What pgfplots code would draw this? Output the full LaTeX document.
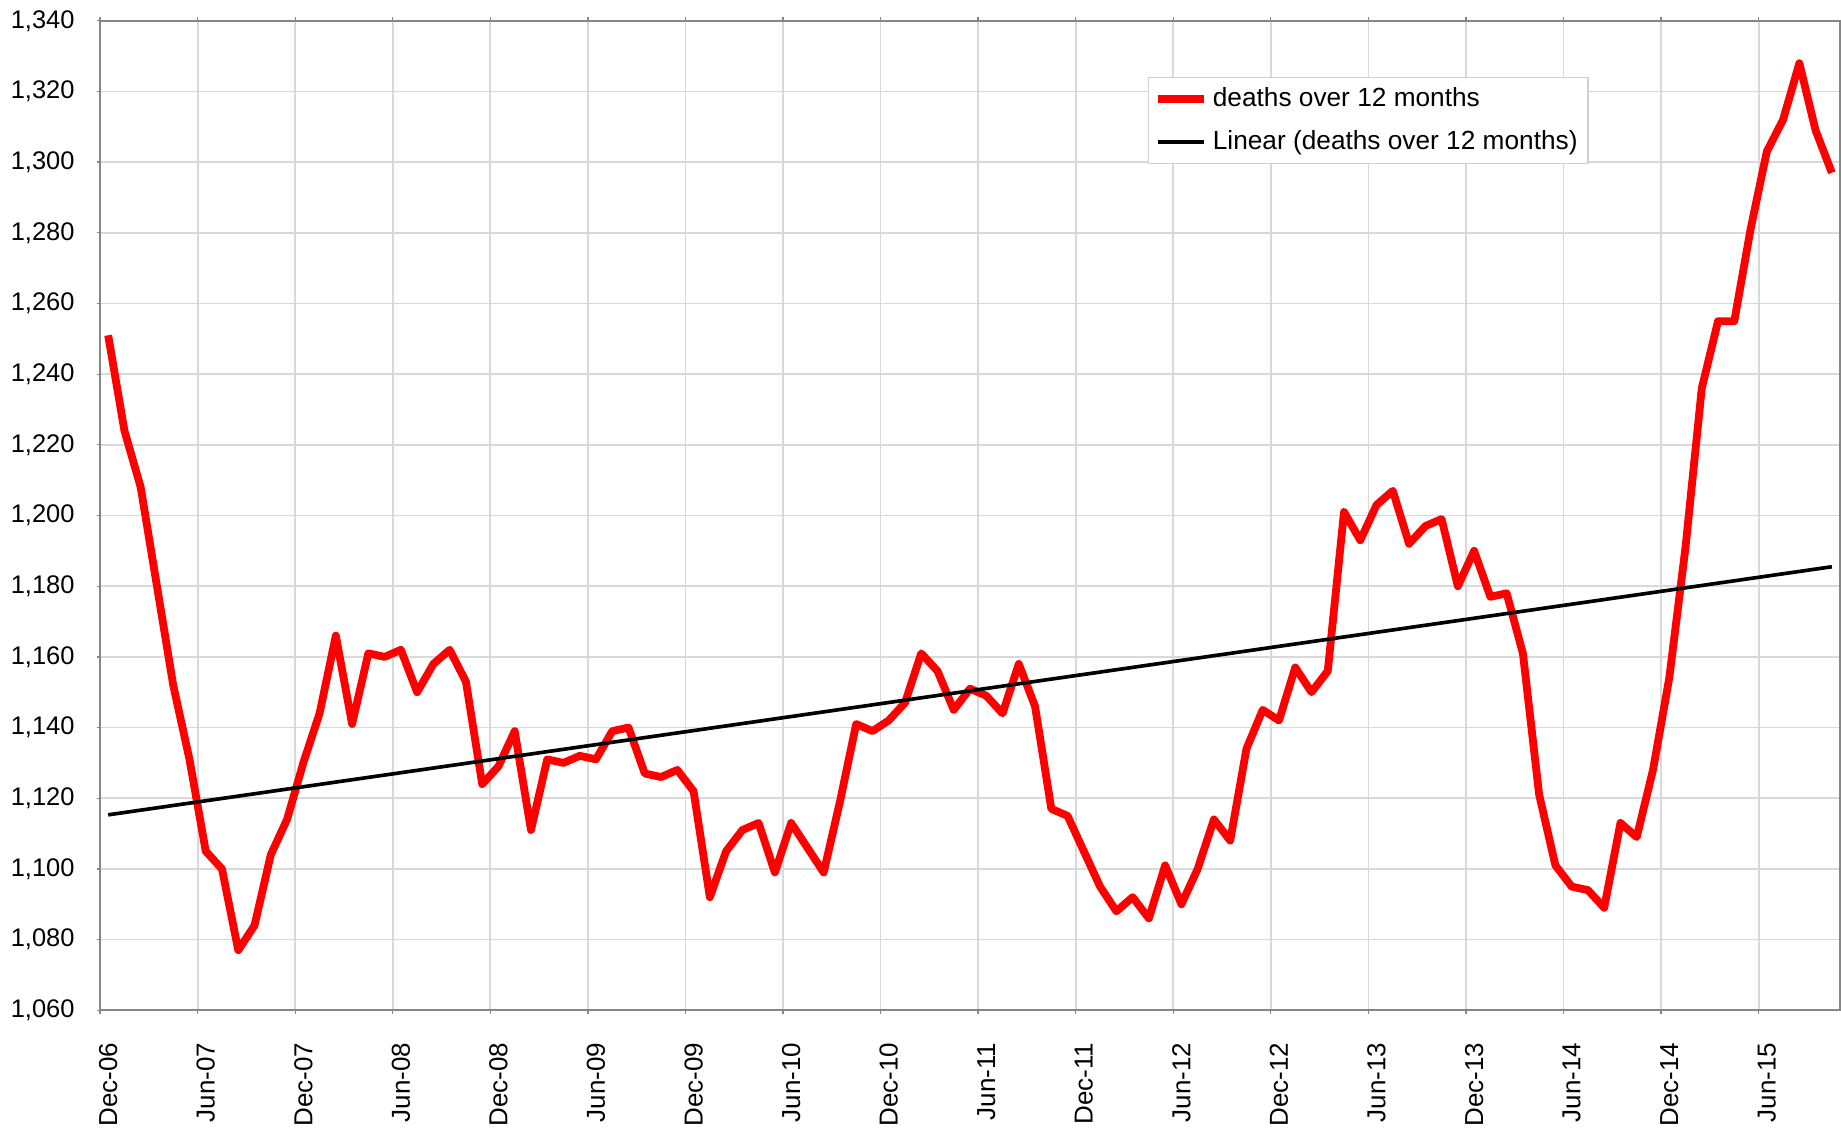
\documentclass[border=0pt]{standalone}
\usepackage{fontspec}
\setmainfont{Liberation Sans}
\usepackage{pgfplots}
\pgfplotsset{compat=1.18}
\definecolor{deathred}{HTML}{FF0000}
\definecolor{framegrey}{HTML}{868686}
\definecolor{gridgrey}{HTML}{D9D9D9}
\definecolor{legendgrey}{HTML}{D0D0D0}

% deaths over 12 months, monthly, index 0 = Dec-06
\pgfplotstableread{
idx deaths
0 1251
1 1224
2 1208
3 1180
4 1152
5 1131
6 1105
7 1100
8 1077
9 1084
10 1104
11 1114
12 1130
13 1144
14 1166
15 1141
16 1161
17 1160
18 1162
19 1150
20 1158
21 1162
22 1153
23 1124
24 1129
25 1139
26 1111
27 1131
28 1130
29 1132
30 1131
31 1139
32 1140
33 1127
34 1126
35 1128
36 1122
37 1092
38 1105
39 1111
40 1113
41 1099
42 1113
43 1106
44 1099
45 1119
46 1141
47 1139
48 1142
49 1147
50 1161
51 1156
52 1145
53 1151
54 1149
55 1144
56 1158
57 1146
58 1117
59 1115
60 1105
61 1095
62 1088
63 1092
64 1086
65 1101
66 1090
67 1100
68 1114
69 1108
70 1134
71 1145
72 1142
73 1157
74 1150
75 1156
76 1201
77 1193
78 1203
79 1207
80 1192
81 1197
82 1199
83 1180
84 1190
85 1177
86 1178
87 1161
88 1121
89 1101
90 1095
91 1094
92 1089
93 1113
94 1109
95 1128
96 1154
97 1191
98 1236
99 1255
100 1255
101 1281
102 1303
103 1312
104 1328
105 1309
106 1297
}\deathstable

\begin{document}
\begin{tikzpicture}
\begin{axis}[name=ax,
  scale only axis,
  width=669.6pt,height=380.8pt,
  xmin=-0.5,xmax=106.5,
  ymin=1060,ymax=1340,
  font=\fontsize{9.8}{11.8}\selectfont,
  tick label style={font=\fontsize{9.8}{11.8}\selectfont},
  /pgf/number format/assume math mode=true,
  /pgf/number format/1000 sep={,},
  xtick={0,6,...,102},
  xticklabels={Dec-06,Jun-07,Dec-07,Jun-08,Dec-08,Jun-09,Dec-09,Jun-10,Dec-10,Jun-11,Dec-11,Jun-12,Dec-12,Jun-13,Dec-13,Jun-14,Dec-14,Jun-15},
  xticklabel style={font=\fontsize{10}{12}\selectfont,rotate=90,anchor=east,xshift=-7.7pt},
  minor xtick={-0.5,5.5,11.5,17.5,23.5,29.5,35.5,41.5,47.5,53.5,59.5,65.5,71.5,77.5,83.5,89.5,95.5,101.5},
  xminorgrids=true,
  major x tick style={draw=none},
  ytick={1060,1080,...,1340},
  ymajorgrids=true,
  grid style={gridgrey,line width=0.7pt},
  minor grid style={gridgrey,line width=0.7pt},
  tick align=outside,
  major tick length=1.3pt,
  minor tick length=1.3pt,
  tick style={framegrey,line width=0.5pt},
  axis line style={framegrey,line width=0.8pt},
  y tick label style={xshift=-5pt},
  legend style={at={(0.6021,0.9434)},anchor=north west,
    draw=legendgrey,fill=white,line width=0.6pt,
    font=\fontsize{10.1}{12}\selectfont,
    inner xsep=2pt,inner ysep=1.8pt,row sep=3.8pt,
    /tikz/every even column/.append style={column sep=0pt}},
  legend cell align=left,
  legend image code/.code={\draw[#1] (0pt,0pt) -- (17.8pt,0pt);},
  clip=false,
]
\addplot[deathred,line width=3pt,line join=round] table[x=idx,y=deaths] {\deathstable};
\addlegendentry{deaths over 12 months}
\addplot[black,line width=1.4pt] coordinates {(0,1115.3) (106,1185.5)};
\addlegendentry{Linear (deaths over 12 months)}
\end{axis}
\pgfresetboundingbox
\path[use as bounding box] ([xshift=-38.5pt,yshift=-45.9pt]ax.south west) rectangle ([xshift=0.4pt,yshift=8pt]ax.north east);
\end{tikzpicture}
\end{document}
